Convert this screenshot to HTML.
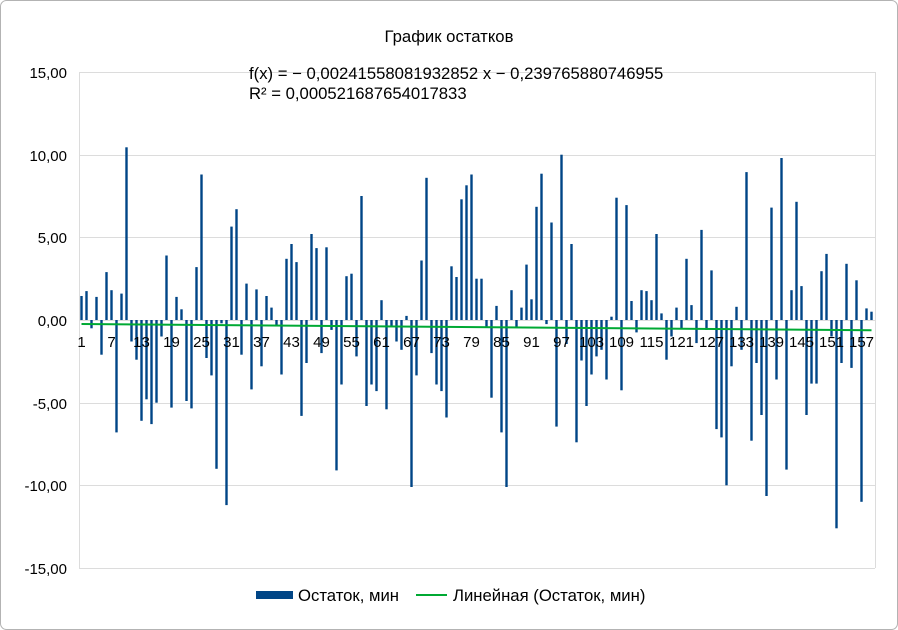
<!DOCTYPE html>
<html><head><meta charset="utf-8">
<style>
html,body{margin:0;padding:0;background:#fff;}
svg{display:block;font-family:"Liberation Sans",sans-serif;}
</style></head>
<body>
<svg id="c" width="898" height="630" viewBox="0 0 898 630" xmlns="http://www.w3.org/2000/svg">
<rect x="0.5" y="0.5" width="897" height="629" rx="6" fill="#fff" stroke="#b3b3b3"/>
<g stroke="#dcdcdc" stroke-width="1">
<line x1="79" y1="72.5" x2="875" y2="72.5"/>
<line x1="79" y1="155.5" x2="875" y2="155.5"/>
<line x1="79" y1="237.5" x2="875" y2="237.5"/>
<line x1="79" y1="320.5" x2="875" y2="320.5"/>
<line x1="79" y1="403.5" x2="875" y2="403.5"/>
<line x1="79" y1="485.5" x2="875" y2="485.5"/>
<line x1="79" y1="568.5" x2="875" y2="568.5"/>
<line x1="79.5" y1="72" x2="79.5" y2="568"/>
<line x1="875.5" y1="72" x2="875.5" y2="568"/>
</g>
<g id="bars" fill="#004586"></g>
<line x1="81.5" y1="324" x2="871.5" y2="330.3" stroke="#00a933" stroke-width="2"/>
<text x="449" y="42" font-size="16.7" text-anchor="middle">График остатков</text>
<text x="249" y="79" font-size="16.7">f(x) = − 0,00241558081932852 x − 0,239765880746955</text>
<text x="249" y="99" font-size="16.7">R² = 0,000521687654017833</text>
<g font-size="15" text-anchor="end">
<text x="67" y="78">15,00</text>
<text x="67" y="161">10,00</text>
<text x="67" y="243">5,00</text>
<text x="67" y="326">0,00</text>
<text x="67" y="409">-5,00</text>
<text x="67" y="491">-10,00</text>
<text x="67" y="574">-15,00</text>
</g>
<g font-size="15" text-anchor="middle">
<text x="81.5" y="347">1</text>
<text x="111.5" y="347">7</text>
<text x="141.5" y="347">13</text>
<text x="171.5" y="347">19</text>
<text x="201.5" y="347">25</text>
<text x="231.5" y="347">31</text>
<text x="261.5" y="347">37</text>
<text x="291.5" y="347">43</text>
<text x="321.5" y="347">49</text>
<text x="351.5" y="347">55</text>
<text x="381.5" y="347">61</text>
<text x="411.5" y="347">67</text>
<text x="441.5" y="347">73</text>
<text x="471.5" y="347">79</text>
<text x="501.5" y="347">85</text>
<text x="531.5" y="347">91</text>
<text x="561.5" y="347">97</text>
<text x="591.5" y="347">103</text>
<text x="621.5" y="347">109</text>
<text x="651.5" y="347">115</text>
<text x="681.5" y="347">121</text>
<text x="711.5" y="347">127</text>
<text x="741.5" y="347">133</text>
<text x="771.5" y="347">139</text>
<text x="801.5" y="347">145</text>
<text x="831.5" y="347">151</text>
<text x="861.5" y="347">157</text>
</g>
<rect x="256" y="591" width="37" height="8" fill="#004586"/>
<text x="298" y="601" font-size="16.7">Остаток, мин</text>
<line x1="416" y1="595" x2="447" y2="595" stroke="#00a933" stroke-width="2"/>
<text x="453" y="601" font-size="16.7">Линейная (Остаток, мин)</text>
</svg>
<script>
var v=[1.45,1.75,-0.5,1.4,-2.1,2.9,1.8,-6.8,1.6,10.45,-1.3,-2.4,-6.1,-4.8,-6.3,-5.0,-1.0,3.9,-5.3,1.4,
0.65,-4.9,-5.35,3.2,8.8,-2.3,-3.35,-9.0,-0.2,-11.2,5.65,6.7,-2.1,2.2,-4.2,1.85,-2.8,1.45,0.75,-0.3,
-3.3,3.7,4.6,3.5,-5.8,-2.6,5.2,4.35,-2.0,4.4,-0.6,-9.1,-3.9,2.65,2.8,-2.2,7.5,-5.2,-3.9,-4.3,
1.2,-5.4,-0.4,-1.3,-1.8,0.25,-10.1,-3.35,3.6,8.6,-2.0,-3.9,-4.3,-5.9,3.25,2.6,7.3,8.15,8.8,2.5,
2.5,-0.4,-4.7,0.85,-6.8,-10.1,1.8,-0.4,0.75,3.35,1.25,6.85,8.85,-0.25,5.9,-6.45,10.0,-1.45,4.6,-7.4,
-2.45,-5.2,-3.3,-2.2,-1.8,-3.6,0.2,7.4,-4.25,6.95,1.15,-0.75,1.8,1.75,1.2,5.2,0.4,-2.4,-1.0,0.75,
-0.5,3.7,0.9,-1.4,5.45,-0.6,3.0,-6.6,-7.1,-10.0,-2.8,0.8,-1.8,8.95,-7.3,-2.6,-5.75,-10.65,6.8,-3.6,
9.8,-9.05,1.8,7.15,2.05,-5.75,-3.85,-3.85,2.95,4.0,-1.0,-12.6,-2.6,3.4,-2.9,2.4,-11.0,0.7,0.5];
var g=document.getElementById('bars'),s='';
for(var i=0;i<v.length;i++){var x=81.5+i*5-1.2,h=Math.abs(v[i])*16.53,y=v[i]>0?320-h:320;
s+='<rect x="'+x+'" y="'+y.toFixed(1)+'" width="2.4" height="'+h.toFixed(1)+'"/>';}
g.innerHTML=s;
</script>
</body></html>
